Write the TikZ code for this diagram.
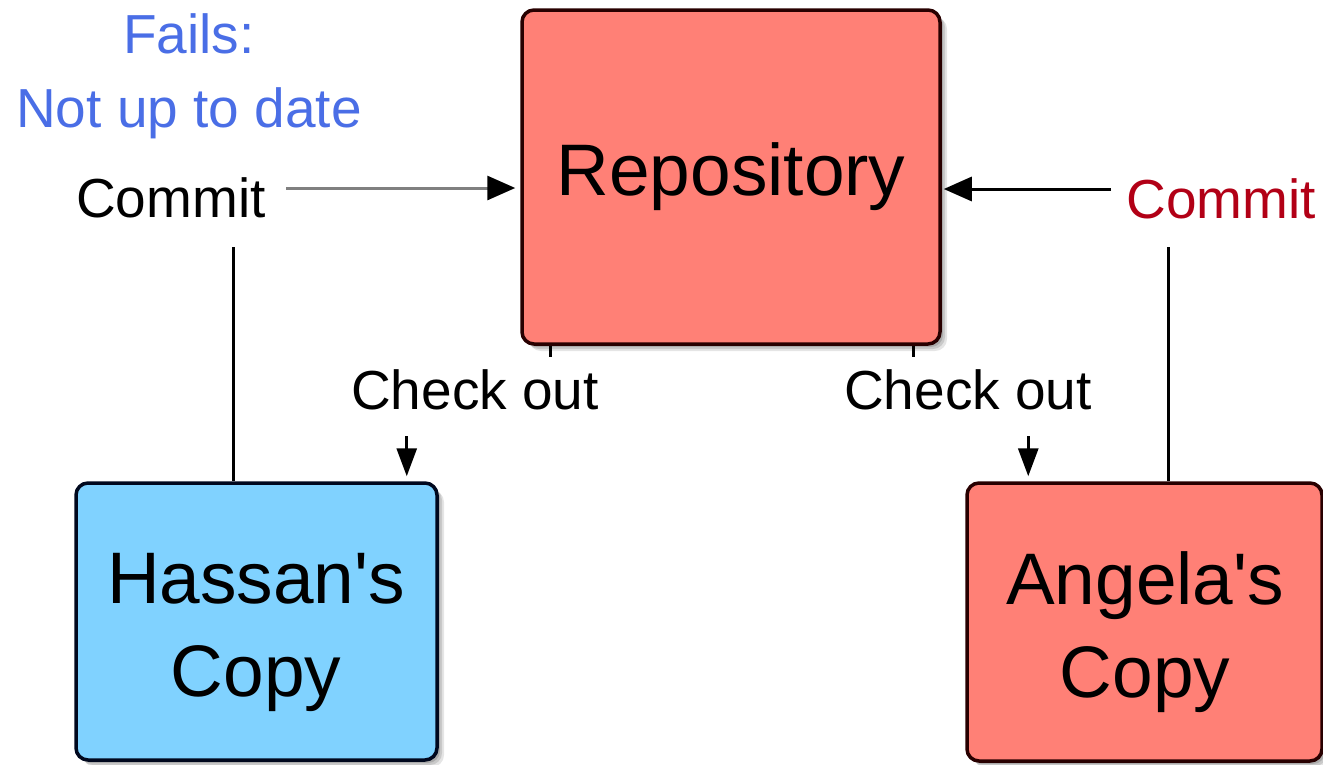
\documentclass[tikz,border=0pt]{standalone}
\usepackage{fontspec}
\setmainfont{Liberation Sans}
\usetikzlibrary{arrows.meta}
\definecolor{salmon}{RGB}{255,128,118}
\definecolor{skyfill}{RGB}{128,210,255}
\definecolor{failblue}{RGB}{74,110,230}
\definecolor{commitred}{RGB}{178,0,22}
\definecolor{redborder}{RGB}{40,0,0}
\definecolor{blueborder}{RGB}{0,8,30}
\definecolor{arrowgray}{RGB}{128,128,128}
\tikzset{
  shadowed/.style={
    preaction={fill=black,opacity=0.10,transform canvas={xshift=7pt,yshift=-7pt}},
    preaction={fill=black,opacity=0.12,transform canvas={xshift=5pt,yshift=-5pt}},
    preaction={fill=black,opacity=0.15,transform canvas={xshift=3pt,yshift=-3pt}}},
  box/.style={shadowed,draw,line width=3.5pt,rounded corners=12pt,rectangle,inner sep=0pt},
  bigtext/.style={font=\fontsize{73}{93}\selectfont,inner sep=0pt,align=center},
  smalltext/.style={font=\fontsize{55}{74}\selectfont,inner sep=0pt,align=center},
  link/.style={line width=3pt},
  tipbig/.style={-{Triangle[length=28pt,width=24pt,color=black]}},
  tipsmall/.style={-{Triangle[length=28pt,width=20pt,color=black]}}
}
\begin{document}
\begin{tikzpicture}[x=1pt,y=-1pt]
\useasboundingbox (0,0) rectangle (1323,764);
% boxes
\node[box,fill=salmon,draw=redborder,minimum width=418pt,minimum height=334pt,bigtext] (repo) at (731,177) {Repository};
\node[box,fill=skyfill,draw=blueborder,minimum width=361pt,minimum height=277pt] (hassan) at (256.5,621.5) {};
\node[box,fill=salmon,draw=redborder,minimum width=355pt,minimum height=278pt] (angela) at (1144.5,622) {};
\node[bigtext] (hassanlbl) at (256,632) {Hassan\textquotesingle s\\Copy};
\node[bigtext] (angelalbl) at (1145,632) {Angela\textquotesingle s\\Copy};
% labels
\node[smalltext,text=failblue] (fails) at (189,76) {Fails:\\Not up to date};
\node[smalltext,anchor=base] (commitL) at (171,217) {Commit};
\node[smalltext,anchor=base,text=commitred] (commitR) at (1221,218) {Commit};
\node[smalltext,anchor=base] (checkL) at (475,409) {Check out};
\node[smalltext,anchor=base] (checkR) at (968,409) {Check out};
% connector end points
\coordinate (rowL) at (286,188);
\coordinate (rowR) at (1111,189);
\coordinate (vL) at (233,247);
\coordinate (vR) at (1168,247);
% commit arrows
\draw[link,draw=arrowgray,tipbig,shorten >=5pt] (rowL) -- (rowL -| repo.west);
\draw[link,tipbig,shorten >=2pt] (rowR) -- (rowR -| repo.east);
% vertical lines from copies up to commit
\draw[link] (vL) -- (vL |- hassan.north);
\draw[link] (vR) -- (vR |- angela.north);
% ticks under repository
\draw[link] ([xshift=30pt]repo.south west) -- ++(0,11);
\draw[link] ([xshift=-28pt]repo.south east) -- ++(0,11);
% check out arrows
\draw[link,tipsmall] ([xshift=-32pt,yshift=45pt]hassan.north east) -- ([xshift=-32pt,yshift=5pt]hassan.north east);
\draw[link,tipsmall] ([xshift=63pt,yshift=45pt]angela.north west) -- ([xshift=63pt,yshift=5pt]angela.north west);
\end{tikzpicture}
\end{document}
